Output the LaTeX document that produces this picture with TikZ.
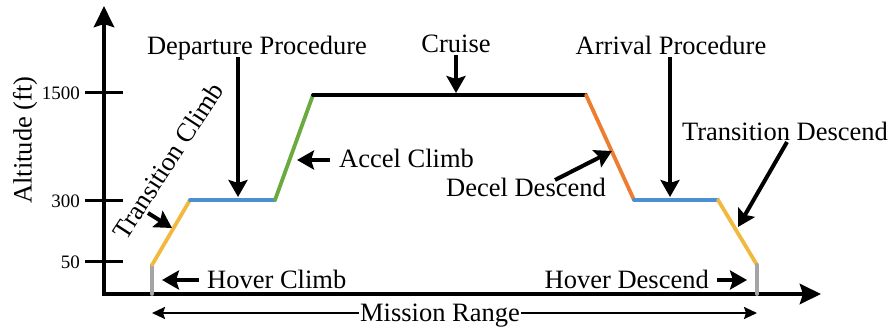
\documentclass[tikz,border=0pt]{standalone}
\usepackage{fontspec}
\setmainfont{LiberationSerif}[Extension=.ttf, UprightFont=*-Regular, BoldFont=*-Bold]
\usetikzlibrary{arrows.meta}
\definecolor{cyel}{HTML}{F2B93F}
\definecolor{cblue}{HTML}{4A90D2}
\definecolor{cgreen}{HTML}{6AAA3E}
\definecolor{corange}{HTML}{ED7D31}
\definecolor{cgray}{HTML}{A5A5A5}
\begin{document}
\begin{tikzpicture}[x=1pt,y=-1pt,
  lbl/.style={font=\rmfamily\fontsize{26.5}{30}\selectfont, inner sep=0pt},
  ticklbl/.style={font=\rmfamily\fontsize{19}{22}\selectfont, anchor=east, inner sep=0pt},
  axis/.style={line width=4.5pt, line cap=rect, -{Stealth[length=21pt,width=20pt,inset=3pt]}},
  callout/.style={line width=4pt, -{Stealth[length=17pt,width=19pt,inset=3pt]}},
  rangearrow/.style={line width=2pt, -{Stealth[length=13pt,width=12pt,inset=2pt]}},
  tickline/.style={line width=3pt},
  seg/.style={line width=3.8pt, line cap=round},
]
\useasboundingbox (0,0) rectangle (893,328);
% axes
\coordinate (O) at (104,294);
\coordinate (ytop) at (104,6);
\coordinate (xend) at (821,294);
\draw[axis] (O) -- (ytop);
\draw[axis] (O) -- (xend);
% ticks
\draw[tickline] (85,93) -- (123,93);
\draw[tickline] (85,201) -- (123,201);
\draw[tickline] (85,262) -- (123,262);
\node[ticklbl] (t1500) at (80,93) {1500};
\node[ticklbl] (t300) at (80,201) {300};
\node[ticklbl] (t50) at (80,262) {50};
\node[lbl, rotate=90] (ylab) at (25,140) {Altitude (ft)};
% mission profile
\coordinate (p0) at (152,294);
\coordinate (p1) at (152,265);
\coordinate (p2) at (190,200);
\coordinate (p3) at (275,200);
\coordinate (p4) at (313,95);
\coordinate (p5) at (586,95);
\coordinate (p6) at (634,200);
\coordinate (p7) at (718,200);
\coordinate (p8) at (757,265);
\coordinate (p9) at (757,294);
\draw[seg, cgray] (p0) -- (p1);
\draw[seg, cyel] (p1) -- (p2);
\draw[seg, cblue] (p2) -- (p3);
\draw[seg, cgreen] (p3) -- (p4);
\draw[seg, black] (p4) -- (p5);
\draw[seg, corange] (p5) -- (p6);
\draw[seg, cblue] (p6) -- (p7);
\draw[seg, cyel] (p7) -- (p8);
\draw[seg, cgray] (p8) -- (p9);
% labels
\node[lbl, anchor=base] (dep) at (257,55) {Departure Procedure};
\coordinate (depT) at (238,197);
\draw[callout] ([yshift=-2pt]dep.base -| depT) -- (depT);
\node[lbl, anchor=base] (cru) at (456,53) {Cruise};
\coordinate (cruT) at (456,93);
\draw[callout] ([yshift=-2pt]cru.base -| cruT) -- (cruT);
\node[lbl, anchor=base] (arr) at (671,55) {Arrival Procedure};
\coordinate (arrT) at (670,197);
\draw[callout] ([yshift=-2pt]arr.base -| arrT) -- (arrT);
\node[lbl, anchor=base west] (acc) at (339,168) {Accel Climb};
\coordinate (accT) at (297,160);
\draw[callout] ([xshift=-9pt]acc.west |- accT) -- (accT);
\node[lbl, anchor=base] (dec) at (526,197) {Decel Descend};
\coordinate (decS) at (555,180);
\coordinate (decT) at (612,151);
\draw[callout] (decS) -- (decT);
\node[lbl, anchor=base] (trd) at (785,141) {Transition Descend};
\coordinate (trdS) at (787,142);
\coordinate (trdT) at (738,227);
\draw[callout] (trdS) -- (trdT);
\node[lbl, rotate=57] (trc) at (168,161) {Transition Climb};
\coordinate (trcS) at (148,213);
\coordinate (trcT) at (172,228);
\draw[callout] (trcS) -- (trcT);
\node[lbl, anchor=base west] (hvc) at (207,288) {Hover Climb};
\coordinate (hvcT) at (162,280);
\draw[callout] ([xshift=-8pt]hvc.west |- hvcT) -- (hvcT);
\node[lbl, anchor=base east] (hvd) at (709,288) {Hover Descend};
\coordinate (hvdT) at (747,280);
\draw[callout] ([xshift=8pt]hvd.east |- hvdT) -- (hvdT);
% mission range
\node[lbl, anchor=base, fill=white, inner xsep=1pt] (mr) at (440,321) {Mission Range};
\coordinate (mrL) at (152,313);
\coordinate (mrR) at (757,313);
\draw[rangearrow] (mr.west |- mrL) -- (mrL);
\draw[rangearrow] (mr.east |- mrR) -- (mrR);
\end{tikzpicture}
\end{document}
